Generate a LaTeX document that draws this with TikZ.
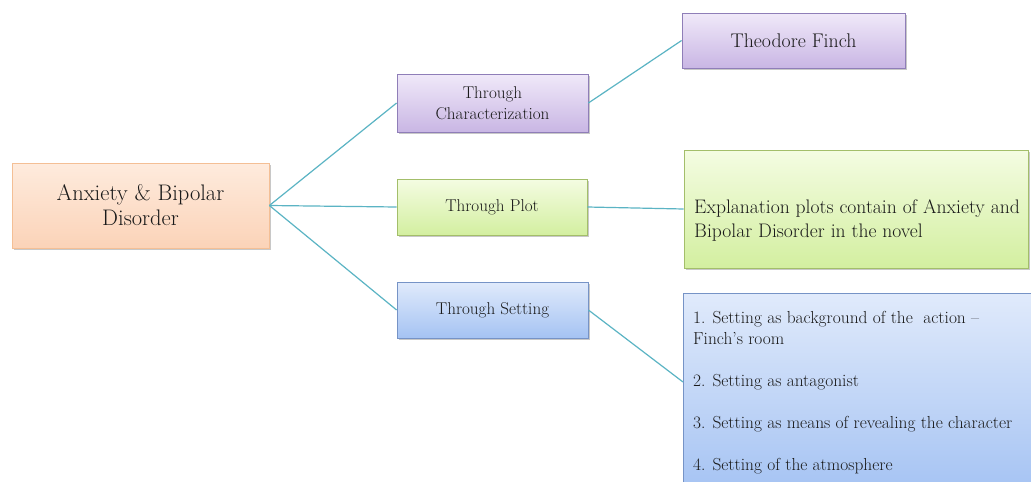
\documentclass[tikz,border=0pt]{standalone}
\usetikzlibrary{shadows}
\definecolor{peachT}{HTML}{FEEBDD}
\definecolor{peachB}{HTML}{FBD3B8}
\definecolor{peachD}{HTML}{F4BF95}
\definecolor{purpT}{HTML}{F0E9F9}
\definecolor{purpB}{HTML}{C9B6E4}
\definecolor{purpD}{HTML}{8F7EB8}
\definecolor{greenT}{HTML}{F4FCE2}
\definecolor{greenB}{HTML}{D3EFA0}
\definecolor{greenD}{HTML}{A3BE6A}
\definecolor{blueT}{HTML}{E0EAFB}
\definecolor{blueB}{HTML}{A5C3F3}
\definecolor{blueD}{HTML}{7693C6}
\definecolor{lineC}{HTML}{5BB4C4}
\definecolor{textC}{HTML}{1A1A1A}
\begin{document}
\begin{tikzpicture}[x=1pt,y=-1pt,
  box/.style={draw, line width=0.8pt, rectangle, inner sep=4pt, align=center, text=textC,
    drop shadow={shadow xshift=1.5pt, shadow yshift=-2pt, opacity=0.3, fill=black!70}},
  peachbox/.style={box, draw=peachD, top color=peachT, bottom color=peachB},
  purpbox/.style={box, draw=purpD, top color=purpT, bottom color=purpB},
  greenbox/.style={box, draw=greenD, top color=greenT, bottom color=greenB},
  bluebox/.style={box, draw=blueD, top color=blueT, bottom color=blueB},
  conn/.style={draw=lineC, line width=1.2pt},
  plain/.style={inner sep=0pt, align=left, text=textC, anchor=north west}]
\clip (0,0) rectangle (1031,482);
\fill[white] (0,0) rectangle (1031,482);

\node[peachbox, minimum width=257, minimum height=85, font=\fontsize{22.5}{25}\selectfont]
  (root) at (140.5,205.5) {Anxiety \& Bipolar\\Disorder};

\node[purpbox, minimum width=191, minimum height=58, font=\fontsize{17.1}{21}\selectfont]
  (char) at (492.5,103) {Through\\Characterization};
\node[greenbox, minimum width=190, minimum height=56, font=\fontsize{17.1}{21}\selectfont]
  (plot) at (492,207) {Through Plot};
\node[bluebox, minimum width=191, minimum height=56, font=\fontsize{17.1}{21}\selectfont]
  (setting) at (492.5,310) {Through Setting};

\node[purpbox, minimum width=223, minimum height=55, font=\fontsize{19.8}{23}\selectfont]
  (finch) at (793.5,40.5) {Theodore Finch};
\node[greenbox, minimum width=344, minimum height=118] (expl) at (856,209) {};
\node[bluebox, anchor=north west, minimum width=356, minimum height=199] (list) at (683,293) {};
\coordinate (listin) at (683,382);

\node[plain, font=\fontsize{19.6}{24.3}\selectfont] (expltext) at (694,199.3)
  {Explanation plots contain of Anxiety and\\Bipolar Disorder in the novel};
\node[plain, font=\fontsize{17.4}{21}\selectfont] (listtext) at (693,311.1)
  {1. Setting as background of the~ action --\\
   Finch’s room\\[21pt]
   2. Setting as antagonist\\[21pt]
   3. Setting as means of revealing the character\\[21pt]
   4. Setting of the atmosphere};

\draw[conn] (root.east) -- (char.west);
\draw[conn] (root.east) -- (plot.west);
\draw[conn] (root.east) -- (setting.west);
\draw[conn] (char.east) -- (finch.west);
\draw[conn] (plot.east) -- (expl.west);
\draw[conn] (setting.east) -- (listin);
\end{tikzpicture}
\end{document}
